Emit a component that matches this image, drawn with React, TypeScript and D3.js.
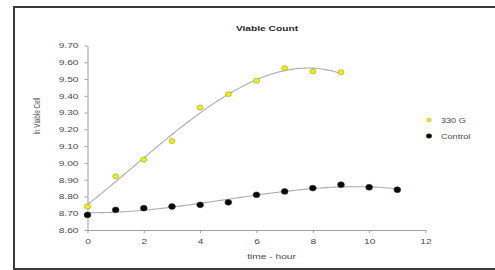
import React, { useEffect, useRef } from 'react';
import * as d3 from 'd3';

const hours330 = [0, 1, 2, 3, 4, 5, 6, 7, 8, 9];
const values330 = [8.74, 8.92, 9.02, 9.13, 9.33, 9.41, 9.49, 9.565, 9.545, 9.54];
const hoursControl = [0, 1, 2, 3, 4, 5, 6, 7, 8, 9, 10, 11];
const valuesControl = [8.69, 8.72, 8.73, 8.74, 8.75, 8.765, 8.81, 8.83, 8.85, 8.87, 8.855, 8.84];
const xTicks = [0, 2, 4, 6, 8, 10, 12];
const yTicks = [8.6, 8.7, 8.8, 8.9, 9.0, 9.1, 9.2, 9.3, 9.4, 9.5, 9.6, 9.7];
const seriesNames = ['330 G', 'Control'];

const W = 495;
const H = 270;
const SX = 1.38; // the source picture is stretched sideways
const FONT = '"Liberation Sans", Arial, sans-serif';

// least squares polynomial (Excel-style trendline)
function polyFit(xs: number[], ys: number[], deg: number) {
  const n = deg + 1;
  const A = Array.from({ length: n }, () => new Array(n + 1).fill(0));
  for (let r = 0; r < n; r++) {
    for (let c = 0; c < n; c++) {
      A[r][c] = d3.sum(xs, x => Math.pow(x, r + c));
    }
    A[r][n] = d3.sum(xs, (x, i) => ys[i] * Math.pow(x, r));
  }
  for (let i = 0; i < n; i++) {
    let p = i;
    for (let k = i + 1; k < n; k++) if (Math.abs(A[k][i]) > Math.abs(A[p][i])) p = k;
    [A[i], A[p]] = [A[p], A[i]];
    for (let k = i + 1; k < n; k++) {
      const f = A[k][i] / A[i][i];
      for (let j = i; j <= n; j++) A[k][j] -= f * A[i][j];
    }
  }
  const coef = new Array(n).fill(0);
  for (let i = n - 1; i >= 0; i--) {
    let s = A[i][n];
    for (let j = i + 1; j < n; j++) s -= A[i][j] * coef[j];
    coef[i] = s / A[i][i];
  }
  return (x: number) => coef.reduce((acc, c, i) => acc + c * Math.pow(x, i), 0);
}

const App = () => {
  const svgRef = useRef<SVGSVGElement>(null);

  useEffect(() => {
    const svg = d3.select(svgRef.current);
    svg.selectAll('*').remove();

    const x = d3.scaleLinear().domain([0, 12]).range([87.5, 425.5]);
    const y = d3.scaleLinear().domain([8.6, 9.7]).range([230, 45.5]);

    svg.append('rect').attr('width', W).attr('height', H).attr('fill', '#fff');

    // outer frame
    svg.append('rect')
      .attr('x', 14).attr('y', 7)
      .attr('width', 520).attr('height', 262)
      .attr('fill', 'none')
      .attr('stroke', '#3a3a3a')
      .attr('stroke-width', 2);

    const textColor = '#4a4a4a';

    const stretchedText = (tx: number, ty: number, str: string, size: number, opts: any = {}) =>
      svg.append('text')
        .attr('transform', `translate(${tx},${ty}) scale(${SX},1)`)
        .attr('text-anchor', opts.anchor || 'middle')
        .style('font-family', FONT)
        .style('font-size', `${size}px`)
        .style('font-weight', opts.bold ? 'bold' : 'normal')
        .style('fill', opts.fill || textColor)
        .text(str);

    stretchedText(267, 30.5, 'Viable Count', 7.4, { bold: true, fill: '#2a2a2a' });
    stretchedText(271.5, 258.5, 'time - hour', 7.4);

    svg.append('text')
      .attr('transform', `translate(39.5,${116}) rotate(-90) scale(1,${SX})`)
      .attr('text-anchor', 'middle')
      .style('font-family', FONT)
      .style('font-size', '6.3px')
      .style('fill', textColor)
      .text('ln Viable Cell');

    // axes
    const xAxis = svg.append('g')
      .attr('transform', 'translate(0,230)')
      .call(d3.axisBottom(x).tickValues(xTicks).tickSize(3).tickSizeOuter(0).tickFormat(d3.format('d')));
    xAxis.selectAll('text')
      .attr('y', 9)
      .attr('transform', `scale(${SX},1)`)
      .attr('x', 0)
      .style('font-family', FONT)
      .style('font-size', '7.4px')
      .style('fill', textColor);

    const yAxis = svg.append('g')
      .attr('transform', 'translate(87.5,0)')
      .call(d3.axisLeft(y).tickValues(yTicks).tickSize(3).tickSizeOuter(0).tickFormat(d3.format('.2f')));
    yAxis.selectAll('text')
      .attr('x', -9 / SX)
      .attr('transform', `scale(${SX},1)`)
      .style('font-family', FONT)
      .style('font-size', '7.4px')
      .style('fill', textColor);

    svg.selectAll('.domain, .tick line').attr('stroke', '#a0a0a0');

    // trendlines
    const line = d3.line<number>().x(d => x(d[0])).y(d => y(d[1]));
    const trend = (xs: number[], ys: number[]) => {
      const f = polyFit(xs, ys, 3);
      const lo = d3.min(xs)!, hi = d3.max(xs)!;
      const pts = d3.range(0, 101).map(i => {
        const t = lo + (hi - lo) * i / 100;
        return [t, f(t)];
      });
      svg.append('path')
        .attr('d', line(pts as any))
        .attr('fill', 'none')
        .attr('stroke', '#ababab')
        .attr('stroke-width', 1.1);
    };
    trend(hours330, values330);
    trend(hoursControl, valuesControl);

    // points
    svg.append('g').selectAll('ellipse')
      .data(hours330)
      .join('ellipse')
      .attr('cx', d => x(d))
      .attr('cy', (d, i) => y(values330[i]))
      .attr('rx', 3)
      .attr('ry', 2.5)
      .attr('fill', '#f0f000')
      .attr('stroke', '#8a8a30')
      .attr('stroke-width', 0.5);

    svg.append('g').selectAll('ellipse')
      .data(hoursControl)
      .join('ellipse')
      .attr('cx', d => x(d))
      .attr('cy', (d, i) => y(valuesControl[i]))
      .attr('rx', 3.4)
      .attr('ry', 2.9)
      .attr('fill', '#050505')
      .attr('stroke', '#1d4a1d')
      .attr('stroke-width', 0.6);

    // legend
    const legendY = [120, 136];
    svg.append('ellipse')
      .attr('cx', 429).attr('cy', legendY[0])
      .attr('rx', 2.2).attr('ry', 1.8)
      .attr('fill', '#f0f000')
      .attr('stroke', '#8a8a30')
      .attr('stroke-width', 0.4);
    svg.append('ellipse')
      .attr('cx', 429).attr('cy', legendY[1])
      .attr('rx', 2.8).attr('ry', 2.2)
      .attr('fill', '#050505')
      .attr('stroke', '#1d4a1d')
      .attr('stroke-width', 0.5);
    seriesNames.forEach((name, i) => {
      stretchedText(441, legendY[i] + 2.5, name, 6.6, { anchor: 'start' });
    });
  }, []);

  return (
    <svg
      ref={svgRef}
      width={W}
      height={H}
      style={{ position: 'absolute', left: 0, top: 0, display: 'block' }}
    />
  );
};

export default App;
